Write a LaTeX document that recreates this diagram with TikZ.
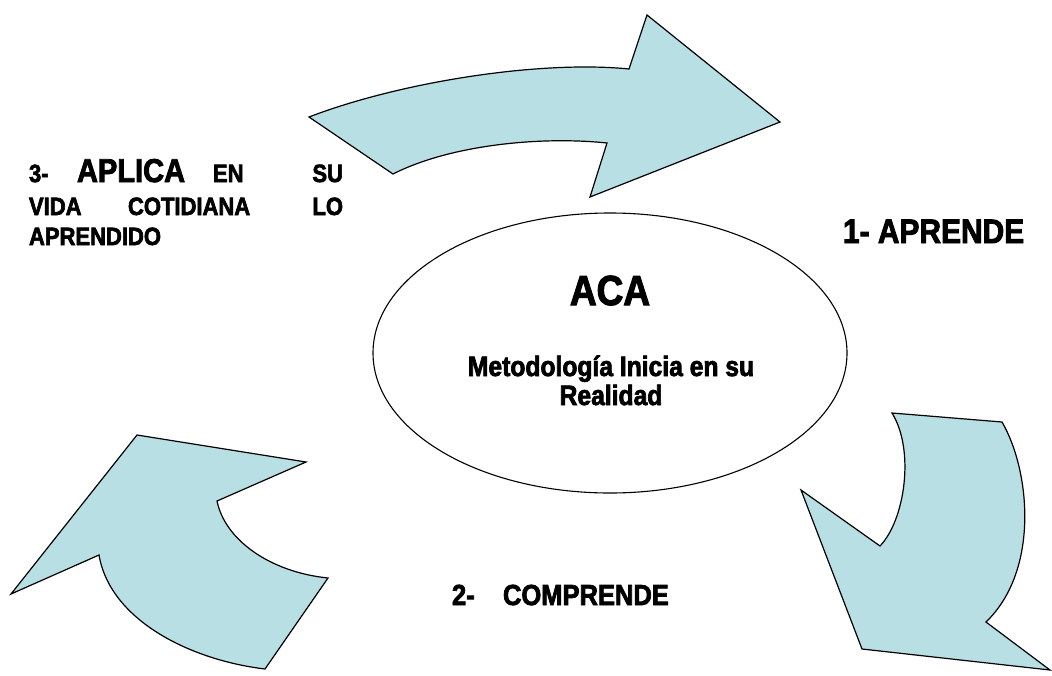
\documentclass[tikz,border=0pt]{standalone}
\usepackage{fontspec}
\usetikzlibrary{shapes.geometric}
\newfontfamily\imp{Liberation Sans}[FakeStretch=0.88,BoldFeatures={FakeBold=2.5}]
\definecolor{arrowfill}{RGB}{184,223,227}
\tikzset{
  bigarrow/.style={fill=arrowfill,draw=black,line width=1.2pt,line join=miter},
  ring/.style={draw=black,line width=1.1pt},
  lbl/.style={inner sep=0pt,outer sep=0pt,text=black},
  sz/.style={font=\imp\bfseries\fontsize{#1}{#1}\selectfont}
}
\begin{document}
\begin{tikzpicture}[x=1pt,y=-1pt]
\useasboundingbox (0,0) rectangle (1052,675);
\fill[white] (0,0) rectangle (1052,675);
% top arrow
\draw[bigarrow] (309,117) .. controls (400,82) and (540,60) .. (629,69)
  -- (647,15) -- (780,122) -- (590,197) -- (607,143)
  .. controls (540,136) and (450,145) .. (393,174) -- cycle;
% right arrow
\draw[bigarrow] (892,413) -- (1002,422)
  .. controls (1030,470) and (1040,570) .. (986,622)
  -- (1050,670) -- (862,649) -- (801,490) -- (880,546)
  .. controls (905,520) and (915,450) .. (892,413) -- cycle;
% left arrow
\draw[bigarrow] (137,435) -- (306,462) -- (217,501)
  .. controls (225,540) and (270,572) .. (328,578)
  -- (265,669)
  .. controls (190,660) and (110,620) .. (99,555)
  -- (11,594) -- cycle;
% ellipse
\node[ring,ellipse,minimum width=474pt,minimum height=280pt,inner sep=0pt] (core) at (610,353) {};
\node[lbl,sz=42,anchor=base] (aca) at (610,305) {ACA};
\node[lbl,sz=28,anchor=base] (met) at (611,376) {Metodología Inicia en su};
\node[lbl,sz=28,anchor=base] (real) at (611,405) {Realidad};
% step labels
\node[lbl,sz=34,anchor=base west] (s1) at (843,243) {1- APRENDE};
\node[lbl,sz=29,anchor=base west] (s2a) at (452,605) {2-};
\node[lbl,sz=29,anchor=base west] (s2b) at (503,605) {COMPRENDE};
\node[lbl,sz=25,anchor=base west] (w1) at (29,182) {3-};
\node[lbl,sz=33,anchor=base west] (w2) at (77,182) {APLICA};
\node[lbl,sz=25,anchor=base west] (w3) at (213,182) {EN};
\node[lbl,sz=25,anchor=base east] (w4) at (343,182) {SU};
\node[lbl,sz=25,anchor=base west] (w5) at (29,215) {VIDA};
\node[lbl,sz=25,anchor=base west] (w6) at (128,215) {COTIDIANA};
\node[lbl,sz=25,anchor=base east] (w7) at (343,215) {LO};
\node[lbl,sz=25,anchor=base west] (w8) at (29,245) {APRENDIDO};
\end{tikzpicture}
\end{document}
